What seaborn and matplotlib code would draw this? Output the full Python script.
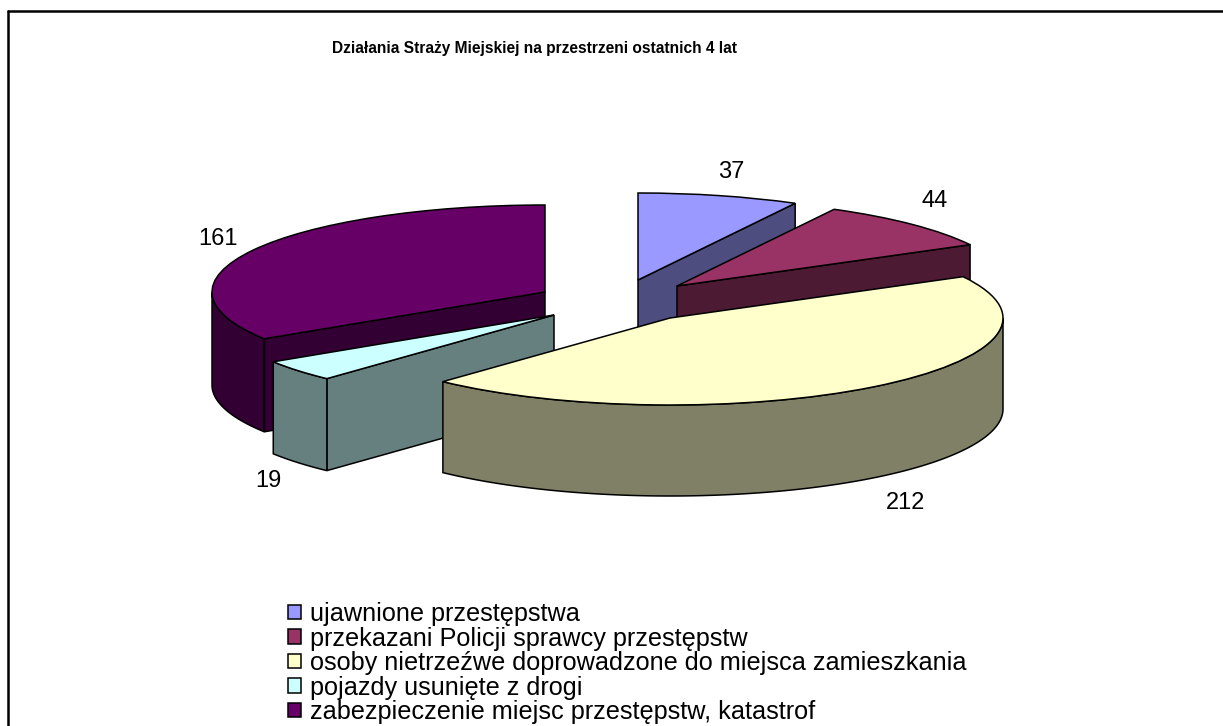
import numpy as np
import matplotlib
matplotlib.use("Agg")
import matplotlib.pyplot as plt
from matplotlib.lines import Line2D
from matplotlib.patches import Polygon
from matplotlib.transforms import Affine2D
import seaborn as sns

# ---- data ----
title = "Działania Straży Miejskiej na przestrzeni ostatnich 4 lat"
categories = [
    "ujawnione przestępstwa",
    "przekazani Policji sprawcy przestępstw",
    "osoby nietrzeźwe doprowadzone do miejsca zamieszkania",
    "pojazdy usunięte z drogi",
    "zabezpieczenie miejsc przestępstw, katastrof",
]
values = [37, 44, 212, 19, 161]
hex_colors = ["#9999FF", "#993366", "#FFFFCC", "#CCFFFF", "#660066"]

# ---- layout (pixels, measured from the top-left of the picture) ----
W, H = 1223, 726
apexes = [(638, 280), (677, 286), (670, 318), (554, 315), (545, 292)]
RX, RY = 333, 87
depths = [88, 88, 91, 92, 93]
paint_order = [4, 0, 1, 3, 2]
label_xy = [(731, 172), (935, 201), (906, 503), (268, 481), (218, 239)]
LW = 1.1

sns.set_theme(style="white")
plt.rcParams["font.family"] = ["Liberation Sans", "DejaVu Sans"]
palette = sns.color_palette(hex_colors)

fig = plt.figure(figsize=(W / 100, H / 100), dpi=100, facecolor="white")
ax = fig.add_axes([0, 0, 1, 1])

wedges, _ = ax.pie(values, startangle=90, counterclock=False, colors=palette,
                   wedgeprops=dict(edgecolor="black", linewidth=LW))

ax.set_aspect("auto")
ax.set_xlim(0, W)
ax.set_ylim(0, H)
ax.axis("off")


def project(t_deg, apex, z=0):
    t = np.radians(t_deg)
    return np.column_stack([apex[0] + RX * np.cos(t), H - apex[1] + RY * np.sin(t) - z])


for rank, i in enumerate(paint_order):
    w, apex, d = wedges[i], apexes[i], depths[i]
    shade = tuple(c * 0.5 for c in palette[i])
    base = 2 + rank
    centre = np.array([[apex[0], H - apex[1]]], dtype=float)
    mid = project(np.array([(w.theta1 + w.theta2) / 2]), apex)[0]

    # cut faces from the hub to each slice edge; a face shows only when the
    # slice's top lies above it
    for edge in (w.theta1, w.theta2):
        p = project(np.array([edge]), apex)
        run = p[0, 0] - centre[0, 0]
        if abs(run) < 1:
            continue
        line_y = centre[0, 1] + (p[0, 1] - centre[0, 1]) * (mid[0] - centre[0, 0]) / run
        if mid[1] <= line_y:
            continue
        quad = np.vstack([centre, p, p - [0, d], centre - [0, d]])
        ax.add_patch(Polygon(quad, closed=True, facecolor=shade, edgecolor="black",
                             linewidth=LW, zorder=base))

    # outer rim: only the front half of the ellipse can be seen
    ts = np.linspace(w.theta1, w.theta2, 200)
    ts = ts[np.sin(np.radians(ts)) <= 0]
    if len(ts) > 1:
        rim = np.vstack([project(ts, apex), project(ts[::-1], apex, d)])
        ax.add_patch(Polygon(rim, closed=True, facecolor=shade, edgecolor="black",
                             linewidth=LW, zorder=base + 0.1))

    # the pie's own wedge is the top face
    w.set_transform(Affine2D().scale(RX, RY).translate(apex[0], H - apex[1]) + ax.transData)
    w.set_zorder(base + 0.2)
    w.set_clip_on(False)

for v, (x, y) in zip(values, label_xy):
    ax.text(x, H - y, str(v), ha="center", va="center", fontsize=17, color="black", zorder=20)

ax.text(534, H - 48, title, ha="center", va="center", fontsize=11.2,
        fontweight="bold", color="black", zorder=20)

leg = ax.legend(wedges, categories, loc="upper left",
                bbox_to_anchor=(288, H - 602), bbox_transform=ax.transData,
                frameon=False, fontsize=18.2, borderpad=0, borderaxespad=0,
                handlelength=0.52, handleheight=0.52, handletextpad=0.36,
                labelspacing=0.02, labelcolor="black")
leg.set_zorder(20)

# chart frame: only its left and top sides fall inside the picture
fig.add_artist(Line2D([7.5 / W, 7.5 / W], [0, 1 - 11 / H], color="black", linewidth=1.8))
fig.add_artist(Line2D([7.5 / W, 1], [1 - 11 / H, 1 - 11 / H], color="black", linewidth=1.8))

fig.savefig("out.png", dpi=100, facecolor="white")
